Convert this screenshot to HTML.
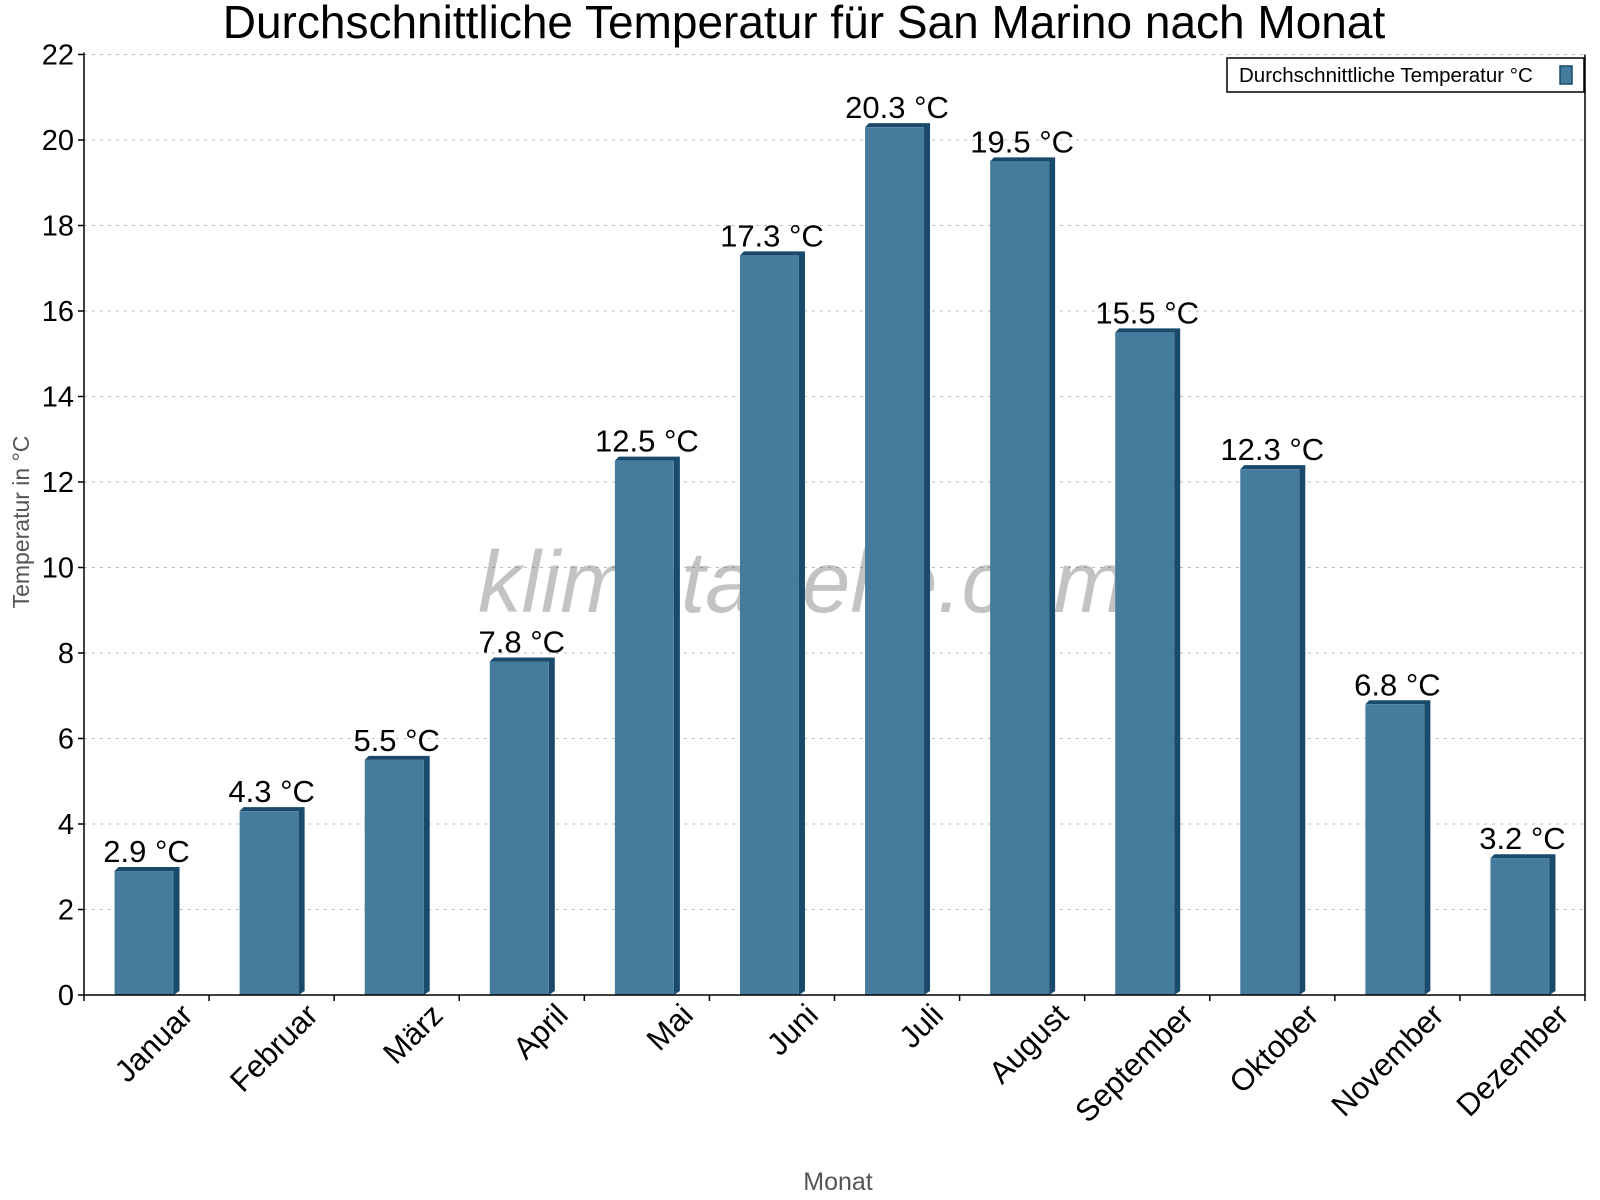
<!DOCTYPE html>
<html><head><meta charset="utf-8"><style>
body{margin:0;background:#fff;}
svg{display:block;font-family:"Liberation Sans",sans-serif;}
</style></head><body>
<svg id="chart" width="1600" height="1200" viewBox="0 0 1600 1200">
<text x="804" y="38" text-anchor="middle" font-size="46">Durchschnittliche Temperatur für San Marino nach Monat</text>
<g id="grid"></g>
<text x="802" y="612" text-anchor="middle" font-size="87" font-style="italic" fill="rgba(90,90,90,0.36)">klimatabelle.com</text>
<g id="bars"></g>
<g id="axes"></g>
<text transform="translate(29,522) rotate(-90)" text-anchor="middle" font-size="23" fill="#555">Temperatur in °C</text>
<text x="838" y="1190" text-anchor="middle" font-size="25" fill="#555">Monat</text>
<g>
<rect x="1227" y="58" width="357" height="34" fill="#fff" stroke="#000" stroke-width="1.5"/>
<text x="1239" y="82" font-size="20.5">Durchschnittliche Temperatur °C</text>
<rect x="1560" y="66" width="12" height="18" fill="#457b9d" stroke="#1a4a6b" stroke-width="1.5"/>
</g>
</svg>
<script>
const months=["Januar","Februar","März","April","Mai","Juni","Juli","August","September","Oktober","November","Dezember"];
const temps=[2.9,4.3,5.5,7.8,12.5,17.3,20.3,19.5,15.5,12.3,6.8,3.2];
const yTicks=[0,2,4,6,8,10,12,14,16,18,20,22];
const NS="http://www.w3.org/2000/svg";
const X0=84,X1=1585,Y0=995,Y1=54.5,YMAX=22;
const cw=(X1-X0)/months.length;
const ys=v=>Y0-(v/YMAX)*(Y0-Y1);
const xc=i=>X0+cw*(i+0.5);
function mk(t,a,p){const e=document.createElementNS(NS,t);for(const k in a)e.setAttribute(k,a[k]);p.appendChild(e);return e;}
const grid=document.getElementById('grid'),bars=document.getElementById('bars'),axes=document.getElementById('axes');
yTicks.forEach(v=>{
 if(v>0){const g=mk('line',{x1:X0,x2:X1,y1:ys(v),y2:ys(v),stroke:'#bbb','stroke-dasharray':'3,5'},grid);
 
 }
 const tk=mk('line',{x1:X0-6,x2:X0,y1:ys(v),y2:ys(v),stroke:'#000','stroke-width':1.5},axes);
 
 
 const t=mk('text',{x:X0-10,y:ys(v)+10,'text-anchor':'end','font-size':29},axes);t.textContent=v;
 
 
});
const bw=59,side=6,topOff=4;
temps.forEach((v,i)=>{
 const l=xc(i)-32,y=ys(v);
 const g=mk('g',{},bars);
 
 
 mk('polygon',{points:`${l},${y} ${l+topOff},${y-topOff} ${l+bw+side},${y-topOff} ${l+bw+side},${Y0-topOff} ${l+bw},${Y0} ${l+bw},${y}`,fill:'#1a4a6b'},g);
 mk('rect',{x:l,y:y,width:bw,height:Y0-y,fill:'#457b9d'},g);
 const t=mk('text',{x:xc(i),y:y-9,'text-anchor':'middle','font-size':31},bars);t.textContent=v.toFixed(1)+' °C';
 
 
 const tk=mk('line',{x1:X0+cw*(i+1),x2:X0+cw*(i+1),y1:Y0,y2:Y0+6,stroke:'#000','stroke-width':1.5},axes);
 
 
 const xl=mk('text',{'text-anchor':'end','font-size':31,transform:`translate(${xc(i)+48},${Y0+22}) rotate(-45)`},axes);xl.textContent=months[i];
 
 
});
const ya=mk('line',{x1:X0,x2:X0,y1:Y1-2,y2:Y0+6,stroke:'#000','stroke-width':1.5},axes);


const xa=mk('line',{x1:X0,x2:X1,y1:Y0,y2:Y0,stroke:'#000','stroke-width':1.5},axes);


const ra=mk('line',{x1:X1,x2:X1,y1:Y1,y2:Y0,stroke:'#000','stroke-width':1.5},axes);


</script>
</body></html>
